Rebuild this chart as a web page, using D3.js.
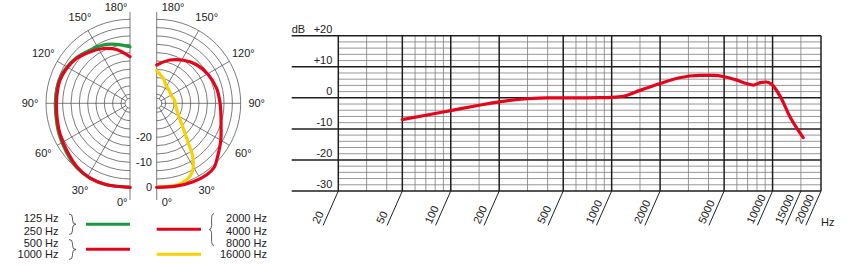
<!DOCTYPE html>
<meta charset="UTF-8">
<svg width="850" height="266"></svg>
<style>
body { margin: 0; background: #fff; }
svg { display: block; font-family: "Liberation Sans", Arial, sans-serif; font-size: 11px; fill: #222; }
.ring, .spoke, .axisline { stroke: #444; stroke-width: 0.7px; fill: none; }
.major { stroke: #1e1e1e; stroke-width: 1.5px; }
.minor { stroke: #7c7c7c; stroke-width: 0.8px; }
.slant { stroke: #222; stroke-width: 1px; }
.curve { fill: none; stroke-width: 3.2px; stroke-linecap: round; stroke-linejoin: round; }
.brace { fill: none; stroke: #333; stroke-width: 0.8px; }
</style>
<script src="https://d3js.org/d3.v7.min.js"></script>
<script>
// ---- frequency response data ----
var freqMajor = [20, 50, 100, 200, 500, 1000, 2000, 5000, 10000, 20000];
var freqMinor = [30, 40, 60, 70, 80, 90, 150, 300, 400, 600, 700, 800, 900, 1500, 3000, 4000, 6000, 7000, 8000, 9000, 15000];
var freqLabels = [20, 50, 100, 200, 500, 1000, 2000, 5000, 10000, 15000, 20000];
var dbMajor = [20, 10, 0, -10, -20, -30];
var dbLabels = ["+20", "+10", "0", "-10", "-20", "-30"];
var respFreq = [50, 70, 100, 150, 200, 300, 400, 500, 700, 850, 1000, 1200, 1500, 2000, 2600, 3500, 4300, 5000, 6000, 6900, 7600, 8300, 9100, 9800, 11200, 12800, 15500];
var respDb = [-7, -5.6, -4.1, -2.4, -1.3, -0.3, 0, 0, 0, 0.05, 0.15, 0.6, 2.4, 4.6, 6.4, 7.2, 7.2, 6.8, 5.7, 4.6, 4.1, 4.8, 5.1, 4.5, 0.3, -6, -12.8];

// ---- polar data (angle 0 = front, 180 = rear) ----
var polarAngleTicks = [0, 30, 60, 90, 120, 150, 180];
var polarRings = [0, -3.33, -6.67, -10, -13.33, -16.67, -20, -23.33, -26.67, -30];
var polarRingLabels = [0, -10, -20];
var greenAngle = [0, 16, 28, 40, 54, 67, 82, 95, 108, 119, 130, 143, 155, 167, 180];
var greenDb = [0, 0.3, 0.4, -0.2, -1.7, -2.7, -3.6, -3.8, -3.8, -4.4, -5.4, -7.0, -7.9, -9.4, -11.0];
var redLowAngle = [0, 16, 28, 40, 54, 67, 82, 95, 108, 119, 130, 142, 154, 166, 180];
var redLowDb = [0, 0.3, 0.3, -0.5, -2.1, -3.1, -4.0, -4.2, -4.1, -4.7, -5.7, -7.5, -9.2, -11.4, -15.0];
var redHighAngle = [0, 13, 25, 35, 42, 48, 60, 70, 81, 91, 104, 119, 134, 148, 163, 180];
var redHighDb = [0, 0.4, 1.0, 1.3, 0.8, -1.0, -4.0, -6.2, -7.6, -8.3, -8.9, -10.0, -11.4, -13.3, -15.5, -18.3];
var yellowAngle = [0, 7, 15, 22, 27, 31, 35, 38, 45, 58, 80, 101, 116, 139, 153, 164, 180];
var yellowDb = [0, 0, 0, -0.9, -2.5, -5.1, -8.8, -12.8, -18.1, -23, -25.8, -26.4, -27, -26.3, -25.5, -23.5, -20.5];

var colRed = "#e3051b", colGreen = "#1a9a3c", colYellow = "#f8d100";

var svg = d3.select("svg");

// ================= polar plots =================
var cy = 103.3, cxL = 130, cxR = 156.7;
var r = d3.scaleLinear().domain([-30, 0]).range([9, 84]);
var rad = Math.PI / 180;

function halfGrid(cx, side) {
    var g = svg.append("g");
    polarRings.forEach(function(db) {
        var p = d3.path();
        var rr = r(db);
        if (side < 0) { p.moveTo(cx, cy + rr); p.arc(cx, cy, rr, Math.PI / 2, Math.PI * 1.5); }
        else { p.moveTo(cx, cy - rr); p.arc(cx, cy, rr, -Math.PI / 2, Math.PI / 2); }
        g.append("path").attr("class", "ring").attr("d", p.toString());
    });
    var p0 = d3.path();
    if (side < 0) { p0.moveTo(cx, cy + 5); p0.arc(cx, cy, 5, Math.PI / 2, Math.PI * 1.5); }
    else { p0.moveTo(cx, cy - 5); p0.arc(cx, cy, 5, -Math.PI / 2, Math.PI / 2); }
    g.append("path").attr("class", "ring").attr("d", p0.toString());
    polarAngleTicks.filter(function(a) { return a > 0 && a < 180; }).forEach(function(a) {
        var s = Math.sin(a * rad) * side, c = Math.cos(a * rad);
        g.append("line").attr("class", "spoke")
            .attr("x1", cx + 5 * s).attr("y1", cy + 5 * c)
            .attr("x2", cx + r(0) * s).attr("y2", cy + r(0) * c);
    });
    g.append("line").attr("class", "axisline")
        .attr("x1", cx).attr("x2", cx).attr("y1", 12).attr("y2", 200);
    // angle labels
    polarAngleTicks.forEach(function(a) {
        var t = g.append("text").text(a + "°").attr("dy", "0.35em");
        if (a === 0 || a === 180) {
            t.attr("x", side < 0 ? cx - 2.5 : cx + 5)
             .attr("y", a === 0 ? cy + 98.4 : cy - 96)
             .attr("text-anchor", side < 0 ? "end" : "start");
        } else {
            t.attr("x", cx + side * 100 * Math.sin(a * rad))
             .attr("y", cy + 100 * Math.cos(a * rad))
             .attr("text-anchor", "middle");
        }
    });
}
halfGrid(cxL, -1);
halfGrid(cxR, 1);

// ring scale labels on the right half
svg.append("g").selectAll("text").data(polarRingLabels).enter().append("text")
    .attr("x", 152).attr("y", function(d) { return cy + r(d) + 4; })
    .attr("text-anchor", "end").text(function(d) { return d; });

function polarCurve(cx, side, angles, dbs, color) {
    var a = d3.scaleLinear().domain([0, 180]).range(side < 0 ? [Math.PI, 2 * Math.PI] : [Math.PI, 0]);
    var line = d3.lineRadial()
        .angle(function(d) { return a(d[0]); })
        .radius(function(d) { return r(d[1]); })
        .curve(d3.curveCatmullRom.alpha(0.5));
    svg.append("path").attr("class", "curve")
        .attr("transform", "translate(" + cx + "," + cy + ")")
        .attr("stroke", color)
        .attr("d", line(d3.zip(angles, dbs)));
}
polarCurve(cxL, -1, greenAngle, greenDb, colGreen);
polarCurve(cxL, -1, redLowAngle, redLowDb, colRed);
polarCurve(cxR, 1, yellowAngle, yellowDb, colYellow);
polarCurve(cxR, 1, redHighAngle, redHighDb, colRed);

// ================= legend =================
var legendLeftText = ["125 Hz", "250 Hz", "500 Hz", "1000 Hz"];
var legendRightText = ["2000 Hz", "4000 Hz", "8000 Hz", "16000 Hz"];
var legendRowY = [222.3, 234.5, 246.5, 258.3];

svg.append("g").selectAll("text").data(legendLeftText).enter().append("text")
    .attr("x", 58.5).attr("y", function(d, i) { return legendRowY[i]; })
    .attr("text-anchor", "end").text(function(d) { return d; });
svg.append("g").selectAll("text").data(legendRightText).enter().append("text")
    .attr("x", 267).attr("y", function(d, i) { return legendRowY[i]; })
    .attr("text-anchor", "end").text(function(d) { return d; });

function brace(x, y0, y1, w) {
    var ym = (y0 + y1) / 2, q = 4;
    var p = d3.path();
    p.moveTo(x, y0);
    p.quadraticCurveTo(x + w, y0, x + w, y0 + q);
    p.lineTo(x + w, ym - q);
    p.quadraticCurveTo(x + w, ym, x + 2 * w, ym);
    p.quadraticCurveTo(x + w, ym, x + w, ym + q);
    p.lineTo(x + w, y1 - q);
    p.quadraticCurveTo(x + w, y1, x, y1);
    svg.append("path").attr("class", "brace").attr("d", p.toString());
}
brace(69, 214, 234.5, 3.5);
brace(69, 239.5, 259.5, 3.5);
brace(214, 213.5, 245.5, -2.4);

var legendLines = [
    {x1: 86, x2: 130, y: 224.3, c: colGreen},
    {x1: 86, x2: 130, y: 249.3, c: colRed},
    {x1: 156.7, x2: 201, y: 229.3, c: colRed},
    {x1: 156.7, x2: 201, y: 254.3, c: colYellow}
];
svg.append("g").selectAll("line").data(legendLines).enter().append("line")
    .attr("x1", function(d) { return d.x1; }).attr("x2", function(d) { return d.x2; })
    .attr("y1", function(d) { return d.y; }).attr("y2", function(d) { return d.y; })
    .attr("stroke", function(d) { return d.c; }).attr("stroke-width", 3);

// ================= frequency response =================
var x = d3.scaleLog().domain([20, 20000]).range([338.3, 821]);
var y = d3.scaleLinear().domain([-30, 20]).range([191, 35.7]);
var fr = svg.append("g");

var dbMinor = d3.range(-30, 20, 2).filter(function(d) { return d % 10 !== 0; });
fr.selectAll("line.hmin").data(dbMinor).enter().append("line").attr("class", "minor")
    .attr("x1", x(20)).attr("x2", x(20000))
    .attr("y1", function(d) { return y(d); }).attr("y2", function(d) { return y(d); });
fr.selectAll("line.vmin").data(freqMinor).enter().append("line").attr("class", "minor")
    .attr("x1", function(d) { return x(d); }).attr("x2", function(d) { return x(d); })
    .attr("y1", y(20)).attr("y2", y(-30));
fr.selectAll("line.vmaj").data(freqMajor).enter().append("line").attr("class", "major")
    .attr("x1", function(d) { return x(d); }).attr("x2", function(d) { return x(d); })
    .attr("y1", y(20)).attr("y2", y(-30));
fr.selectAll("line.hmaj").data(dbMajor).enter().append("line").attr("class", "major")
    .attr("x1", 291.7).attr("x2", x(20000))
    .attr("y1", function(d) { return y(d); }).attr("y2", function(d) { return y(d); });

fr.selectAll("text.db").data(dbMajor).enter().append("text")
    .attr("x", 332.3).attr("y", function(d) { return y(d) - 3; })
    .attr("text-anchor", "end").text(function(d, i) { return dbLabels[i]; });
fr.append("text").attr("x", 291.7).attr("y", y(20) - 3).text("dB");

// slanted frequency ticks
fr.selectAll("line.slant").data(freqLabels).enter().append("line").attr("class", "slant")
    .attr("x1", function(d) { return x(d); }).attr("y1", y(-30))
    .attr("x2", function(d) { return x(d) - 15.2; }).attr("y2", 225.4);
fr.selectAll("text.f").data(freqLabels).enter().append("text")
    .attr("transform", function(d) { return "translate(" + (x(d) - 19.5) + ",224.5) rotate(-65)"; })
    .text(function(d) { return d; });
fr.append("text").attr("x", 821).attr("y", 226).text("Hz");

var respLine = d3.line()
    .x(function(d) { return x(d[0]); })
    .y(function(d) { return y(d[1]); })
    .curve(d3.curveMonotoneX);
fr.append("path").attr("class", "curve").attr("stroke", colRed)
    .attr("d", respLine(d3.zip(respFreq, respDb)));
</script>
